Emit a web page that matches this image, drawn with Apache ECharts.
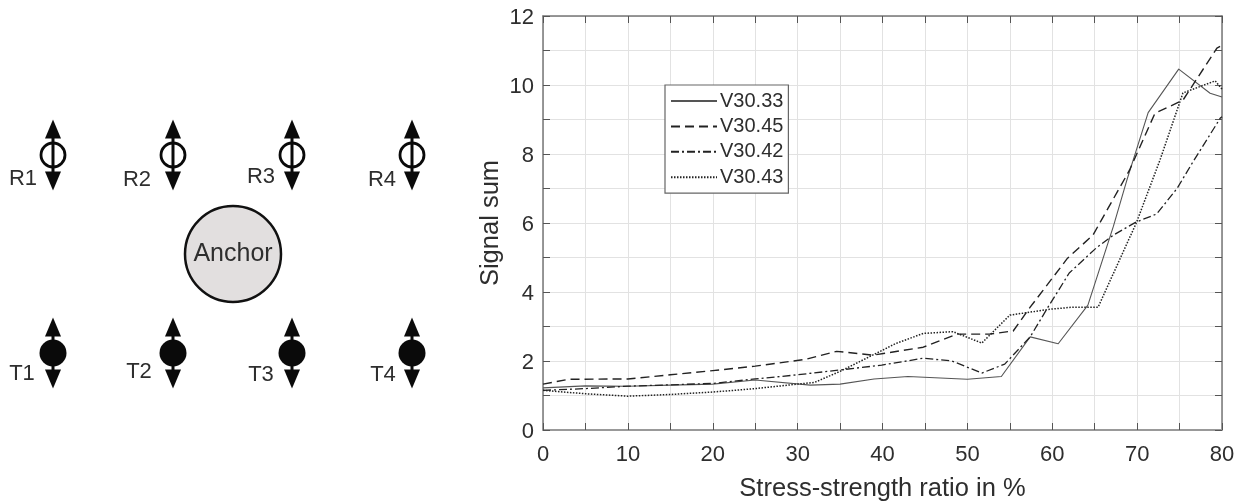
<!DOCTYPE html>
<html><head><meta charset="utf-8">
<style>html,body{margin:0;padding:0;background:#fff}#c{width:1245px;height:504px}</style>
<script src="https://cdn.jsdelivr.net/npm/echarts@6/dist/echarts.min.js"></script>
</head><body><div id="c"></div>
<script>
// Line chart values [stress-strength %, signal sum]
const v3033 = [[0,1.22],[5,1.28],[10,1.27],[15,1.3],[20,1.33],[25,1.45],[31.5,1.3],[35,1.33],[39,1.48],[43,1.55],[50,1.47],[54,1.55],[57.4,2.7],[60.7,2.5],[64.2,3.62],[67.2,5.9],[68.8,7.25],[71.3,9.2],[74.9,10.46],[78.6,9.76],[80,9.65]];
const v3045 = [[0,1.33],[3,1.47],[10,1.48],[15,1.6],[20,1.72],[25,1.85],[31,2.05],[34.6,2.28],[38.9,2.17],[44.8,2.4],[48.8,2.78],[52.6,2.78],[55.4,2.87],[57.4,3.56],[61.8,4.98],[64.8,5.65],[69.1,7.53],[72.1,9.18],[75.4,9.56],[79.4,11.07],[80,11.15]];
const v3042 = [[0,1.15],[5,1.2],[10,1.27],[20,1.35],[25,1.48],[30,1.6],[35,1.74],[39.9,1.88],[44.8,2.08],[48.2,2.0],[51.7,1.65],[54.4,1.91],[57.4,2.7],[59.5,3.56],[62,4.55],[65.2,5.28],[67.2,5.65],[69.9,6.03],[72.3,6.26],[74.7,7.0],[76.5,7.74],[79.8,9.04],[80,9.08]];
const v3043 = [[0,1.15],[5,1.05],[10,0.98],[15,1.03],[20,1.1],[25,1.2],[30,1.33],[32,1.38],[35,1.7],[39.9,2.3],[41.5,2.5],[44.8,2.8],[48.3,2.85],[51.7,2.52],[55,3.33],[59.7,3.5],[62.4,3.56],[65.4,3.56],[69.9,6.0],[72.7,7.83],[75.4,9.77],[79.2,10.12],[80,9.88]];
const seriesNames = ['V30.33','V30.45','V30.42','V30.43'];
const xTickLabels = [0,10,20,30,40,50,60,70,80];
const yTickLabels = [0,2,4,6,8,10,12];
// Schematic (units = diagram coordinates)
const sensorCols = [53,173,292,412];
const rowR = 155, rowT = 353;
const labelsR = [['R1',23,179],['R2',137,180],['R3',261,177],['R4',382,180]];
const labelsT = [['T1',22,374],['T2',139,372],['T3',261,375],['T4',383,375]];
const anchorPt = [[233,254]];

const FONT = '"Liberation Sans", Arial, sans-serif';
const TEXT = '#2e2e2e';
const pts = dy => sensorCols.flatMap(x => [[x,rowR+dy],[x,rowT+dy]]);
const sch = (o) => Object.assign({type:'scatter',xAxisIndex:2,yAxisIndex:2,silent:true,animation:false},o);
const INK = {color:'#0a0a0a',opacity:1};
const lbl = (size,color) => ({show:true,position:'inside',formatter:p=>p.value[2],fontSize:size,color:color,fontFamily:FONT});
const line = (name,data,color,width,type) => ({name,type:'line',data,xAxisIndex:0,yAxisIndex:0,showSymbol:false,symbol:'none',
  silent:true,animation:false,z:5,lineStyle:{color,width,type,cap:'butt',join:'round'},itemStyle:{color}});

const tickFmt = arr => v => arr.includes(v) ? String(v) : '';
const ticks = {show:true,inside:true,length:7,lineStyle:{color:'#555',width:1}};
const frame = (c,w) => ({show:true,onZero:false,lineStyle:{color:c,width:w||1.5}});
const option = {
  backgroundColor:'#fff',
  animation:false,
  grid:[{left:543,top:16,width:679,height:414,show:false,outerBoundsMode:'none',containLabel:false},
        {left:0,top:0,width:470,height:504,show:false,outerBoundsMode:'none',containLabel:false}],
  legend:{
    data:seriesNames,orient:'vertical',left:665,top:85,
    padding:[6,5,6,5],itemGap:5.4,itemWidth:46,itemHeight:17,
    backgroundColor:'#fff',borderColor:'#666',borderWidth:1.2,borderRadius:0,
    selectedMode:false,
    itemStyle:{color:'rgba(0,0,0,0)',borderWidth:0,opacity:0},
    textStyle:{fontSize:20,color:TEXT,fontFamily:FONT,padding:[0,0,0,-2]}
  },
  xAxis:[
    {type:'value',gridIndex:0,min:0,max:80,interval:5,position:'bottom',
     name:'Stress-strength ratio in %',nameLocation:'middle',nameGap:46,nameMoveOverlap:false,
     nameTextStyle:{fontSize:25.5,color:TEXT,fontFamily:FONT},
     axisLine:frame('#999',1.8),axisTick:ticks,
     axisLabel:{formatter:tickFmt(xTickLabels),fontSize:22,color:TEXT,fontFamily:FONT,margin:14,showMinLabel:true,showMaxLabel:true,hideOverlap:false},
     splitLine:{show:true,lineStyle:{color:'#e2e2e2',width:1}}},
    {type:'value',gridIndex:0,min:0,max:80,interval:5,position:'top',
     axisLine:frame('#777'),axisTick:ticks,
     axisLabel:{show:false},splitLine:{show:false}},
    {type:'value',gridIndex:1,min:0,max:470,show:false}
  ],
  yAxis:[
    {type:'value',gridIndex:0,min:0,max:12,interval:1,position:'left',
     name:'Signal sum',nameLocation:'middle',nameGap:39,nameRotate:90,nameMoveOverlap:false,
     nameTextStyle:{fontSize:25.5,color:TEXT,fontFamily:FONT},
     axisLine:frame('#777'),axisTick:ticks,
     axisLabel:{formatter:tickFmt(yTickLabels),fontSize:22,color:TEXT,fontFamily:FONT,margin:9,verticalAlign:'top',lineHeight:4,showMinLabel:true,showMaxLabel:true,hideOverlap:false},
     splitLine:{show:true,lineStyle:{color:'#e2e2e2',width:1}}},
    {type:'value',gridIndex:0,min:0,max:12,interval:1,position:'right',
     axisLine:frame('#777'),axisTick:ticks,
     axisLabel:{show:false},splitLine:{show:false}},
    {type:'value',gridIndex:1,min:0,max:504,inverse:true,show:false}
  ],
  series:[
    line(seriesNames[0],v3033,'#555',1.1,'solid'),
    line(seriesNames[1],v3045,'#222',1.4,[9,5]),
    line(seriesNames[2],v3042,'#222',1.3,[8,3,2,3]),
    line(seriesNames[3],v3043,'#222',1.5,[1.5,1.5]),
    // stems
    sch({symbol:'rect',symbolSize:[3,60],data:pts(0),z:2,itemStyle:INK}),
    // arrow heads
    sch({symbol:'triangle',symbolSize:[16,19],data:pts(-26),z:3,itemStyle:INK}),
    sch({symbol:'triangle',symbolSize:[16,19],symbolRotate:180,data:pts(26),z:3,itemStyle:INK}),
    // receivers (open) and transmitters (filled)
    sch({symbol:'circle',symbolSize:24,data:sensorCols.map(x=>[x,rowR]),z:4,
      itemStyle:{color:'rgba(255,255,255,0)',borderColor:'#0a0a0a',borderWidth:2.8,opacity:1}}),
    sch({symbol:'circle',symbolSize:27,data:sensorCols.map(x=>[x,rowT]),z:4,itemStyle:INK}),
    // anchor
    sch({symbol:'circle',symbolSize:96,data:anchorPt.map(p=>[p[0],p[1],'Anchor']),z:4,
      itemStyle:{color:'#e2dfdf',borderColor:'#111',borderWidth:2.5,opacity:1},label:lbl(25,TEXT)}),
    // sensor labels
    sch({symbol:'circle',symbolSize:1,itemStyle:{color:'rgba(0,0,0,0)',opacity:1},z:6,
      data:labelsR.concat(labelsT).map(a=>[a[1],a[2],a[0]]),label:lbl(22,TEXT)})
  ]
};
echarts.init(document.getElementById('c'),null,{renderer:'canvas'}).setOption(option);
</script></body></html>
